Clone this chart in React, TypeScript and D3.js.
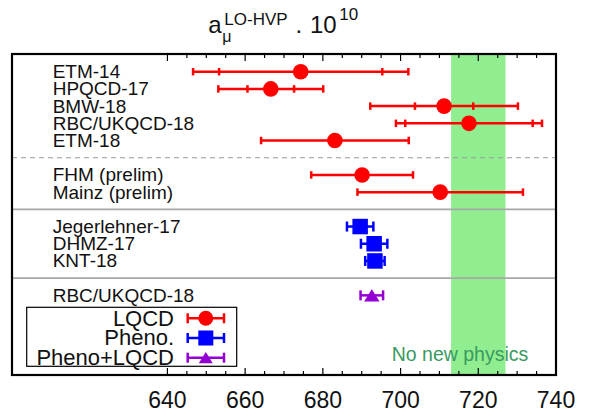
import React from 'react';
import * as d3 from 'd3';

// values (a_mu^LO-HVP x 10^10)
const labels = ['ETM-14', 'HPQCD-17', 'BMW-18', 'RBC/UKQCD-18', 'ETM-18', 'FHM (prelim)', 'Mainz (prelim)', 'Jegerlehner-17', 'DHMZ-17', 'KNT-18', 'RBC/UKQCD-18'];
const rows = [0, 1, 2, 3, 4, 6, 7, 9, 10, 11, 13];
const centers = [674.3, 666.6, 711.2, 717.6, 683.1, 690.1, 710.2, 689.6, 693.2, 693.4, 692.6];
const statErr = [21, 6, 7.5, 16.4, null, null, null, null, null, null, null];
const totalErr = [27.7, 13.5, 19, 18.8, 19, 13.1, 21.3, 3.4, 3.4, 2.5, 2.9];
const kinds = ['LQCD', 'LQCD', 'LQCD', 'LQCD', 'LQCD', 'LQCD', 'LQCD', 'Pheno.', 'Pheno.', 'Pheno.', 'Pheno+LQCD'];

const dashedRows = [5];
const solidRows = [8, 12];

const legendNames = ['LQCD', 'Pheno.', 'Pheno+LQCD'];
const xTicks = [640, 660, 680, 700, 720, 740];
const band = [713, 727];

const W = 592;
const H = 419;
const left = 12, right = 556, top = 54, bottom = 375;

const colors: Record<string, string> = { 'LQCD': '#ff0000', 'Pheno.': '#0000ff', 'Pheno+LQCD': '#9400d3' };

const font = 'Liberation Sans, Arial, Helvetica, sans-serif';

function Marker({ kind, x, y, s }: { kind: string; x: number; y: number; s: number }) {
  const c = colors[kind];
  if (kind === 'LQCD') return <circle cx={x} cy={y} r={s / 2} fill={c} />;
  if (kind === 'Pheno.') return <rect x={x - s / 2} y={y - s / 2} width={s} height={s} fill={c} />;
  const h = s * 0.8;
  return <path d={`M${x - s / 2},${y + h / 2}L${x},${y - h / 2}L${x + s / 2},${y + h / 2}Z`} fill={c} />;
}

function Cap({ x, y, h, c }: { x: number; y: number; h: number; c: string }) {
  return <line x1={x} x2={x} y1={y - h / 2} y2={y + h / 2} stroke={c} strokeWidth={2.5} />;
}

export default function App() {
  const x = d3.scaleLinear().domain([600, 740]).range([left, right]);
  const y = d3.scaleLinear().domain([-1.03, 17.63]).range([top, bottom]);
  const minor = d3.range(640, 741, 5);

  return (
    <svg width={W} height={H} style={{ position: 'absolute', left: 0, top: 0, background: '#fff' }} fontFamily={font}>
      {/* no new physics band */}
      <rect x={x(band[0])} y={top} width={x(band[1]) - x(band[0])} height={bottom - top} fill="#90ee90" />

      {/* separators */}
      {dashedRows.map(r => (
        <line key={'d' + r} x1={left} x2={right} y1={y(r)} y2={y(r)} stroke="#9a9a9a" strokeWidth={1.2} strokeDasharray="5,4" />
      ))}
      {solidRows.map(r => (
        <line key={'s' + r} x1={left} x2={right} y1={y(r)} y2={y(r)} stroke="#a8a8a8" strokeWidth={1.6} />
      ))}

      {/* labels */}
      {labels.map((l, i) => (
        <text key={'l' + i} x={52.7} y={y(rows[i]) + 6.5} fontSize={19} fill="#111">{l}</text>
      ))}

      {/* error bars + markers */}
      {labels.map((l, i) => {
        const c = colors[kinds[i]];
        const cy = y(rows[i]);
        const capH = kinds[i] === 'LQCD' ? 7.5 : 10;
        const lo = x(centers[i] - totalErr[i]);
        const hi = x(centers[i] + totalErr[i]);
        const st = statErr[i];
        return (
          <g key={'e' + i}>
            <line x1={lo} x2={hi} y1={cy} y2={cy} stroke={c} strokeWidth={2.5} />
            <Cap x={lo} y={cy} h={capH} c={c} />
            <Cap x={hi} y={cy} h={capH} c={c} />
            {st != null && <Cap x={x(centers[i] - st)} y={cy} h={capH} c={c} />}
            {st != null && <Cap x={x(centers[i] + st)} y={cy} h={capH} c={c} />}
            <Marker kind={kinds[i]} x={x(centers[i])} y={cy} s={kinds[i] === 'LQCD' ? 15.6 : 15.5} />
          </g>
        );
      })}

      <text x={391.7} y={360.7} fontSize={19.5} fill="#3a9a60">No new physics</text>

      {/* legend */}
      <rect x={26.7} y={307.3} width={210} height={59} fill="#fff" stroke="#000" strokeWidth={1.2} />
      {legendNames.map((n, i) => {
        const ly = 318.3 + i * 19.7;
        const c = colors[n];
        return (
          <g key={'lg' + n}>
            <text x={174} y={ly + 7.3} fontSize={22} textAnchor="end" fill="#111">{n}</text>
            <line x1={187.7} x2={224} y1={ly} y2={ly} stroke={c} strokeWidth={2.5} />
            <Cap x={187.7} y={ly} h={10} c={c} />
            <Cap x={224} y={ly} h={10} c={c} />
            <Marker kind={n} x={205.8} y={ly} s={n === 'Pheno+LQCD' ? 14 : 15} />
          </g>
        );
      })}

      {/* ticks */}
      {minor.map(t => {
        const len = t % 20 === 0 ? 7 : 4;
        return (
          <g key={'t' + t}>
            <line x1={x(t)} x2={x(t)} y1={bottom} y2={bottom - len} stroke="#000" strokeWidth={1.2} />
            <line x1={x(t)} x2={x(t)} y1={top} y2={top + len} stroke="#000" strokeWidth={1.2} />
          </g>
        );
      })}
      {xTicks.map(t => (
        <text key={'tl' + t} x={x(t)} y={408} fontSize={23} textAnchor="middle" fill="#111">{t}</text>
      ))}

      {/* frame */}
      <rect x={left} y={top} width={right - left} height={bottom - top} fill="none" stroke="#000" strokeWidth={2.2} />

      {/* title */}
      <g fill="#111">
        <text x={208.3} y={33.3} fontSize={24}>a</text>
        <text x={222.3} y={41.5} fontSize={16}>μ</text>
        <text x={224.3} y={25} fontSize={17}>LO-HVP</text>
        <text x={295.5} y={33.3} fontSize={24}>.</text>
        <text x={310} y={33.3} fontSize={24}>10</text>
        <text x={339.3} y={20} fontSize={17}>10</text>
      </g>
    </svg>
  );
}
